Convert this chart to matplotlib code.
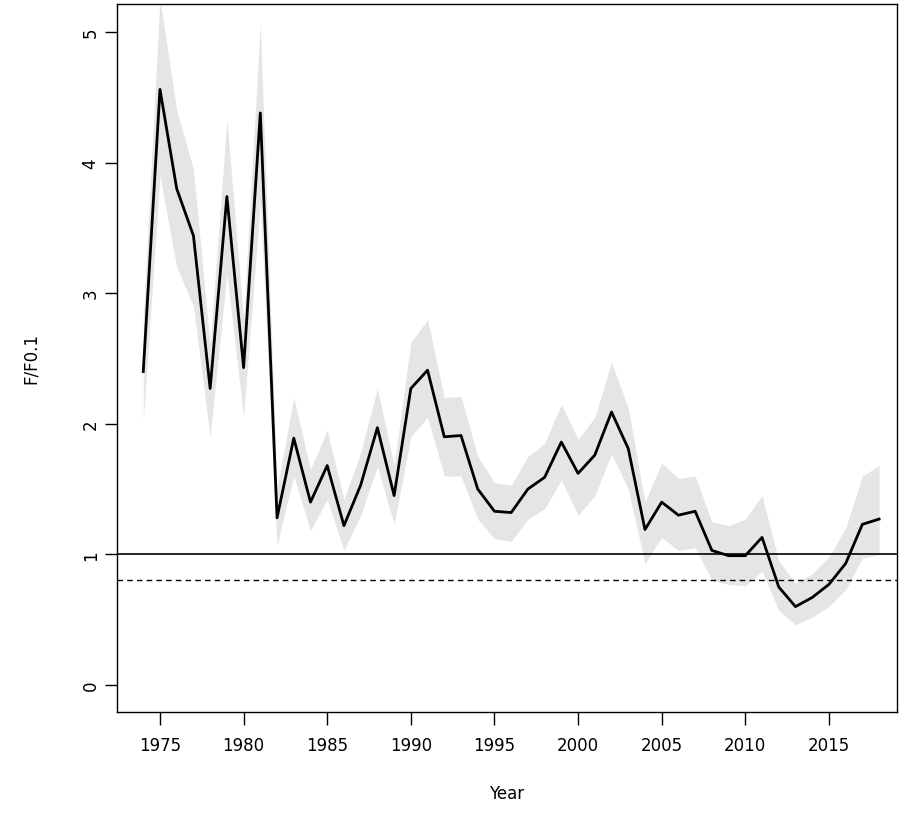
import numpy as np
import matplotlib.pyplot as plt

years = np.arange(1974, 2019)
ratio = [2.40, 4.56, 3.80, 3.44, 2.27, 3.74, 2.43, 4.38, 1.28, 1.89,
         1.40, 1.68, 1.22, 1.53, 1.97, 1.45, 2.27, 2.41, 1.90, 1.91,
         1.50, 1.33, 1.32, 1.50, 1.59, 1.86, 1.62, 1.76, 2.09, 1.81,
         1.19, 1.40, 1.30, 1.33, 1.03, 0.99, 0.99, 1.13, 0.75, 0.60,
         0.67, 0.77, 0.93, 1.23, 1.27]
upper = [2.80, 5.25, 4.40, 3.95, 2.60, 4.33, 2.80, 5.07, 1.50, 2.20,
         1.65, 1.95, 1.42, 1.78, 2.27, 1.68, 2.62, 2.80, 2.20, 2.21,
         1.75, 1.55, 1.53, 1.75, 1.85, 2.15, 1.88, 2.05, 2.47, 2.12,
         1.40, 1.70, 1.58, 1.60, 1.25, 1.22, 1.27, 1.45, 0.95, 0.78,
         0.85, 0.98, 1.20, 1.60, 1.68]
lower = [2.02, 3.90, 3.20, 2.90, 1.90, 3.15, 2.05, 3.70, 1.07, 1.60,
         1.18, 1.42, 1.03, 1.30, 1.67, 1.23, 1.90, 2.05, 1.60, 1.60,
         1.27, 1.12, 1.10, 1.27, 1.35, 1.57, 1.30, 1.45, 1.77, 1.50,
         0.93, 1.13, 1.03, 1.05, 0.80, 0.77, 0.76, 0.87, 0.57, 0.46,
         0.52, 0.60, 0.73, 0.97, 1.00]

fig = plt.figure(figsize=(8.99, 8.28), dpi=100)
ax = fig.add_axes([117/899, 115/828, 780/899, 708/828])
ax.fill_between(years, lower, upper, color='#e5e5e5', linewidth=0)
ax.plot(years, ratio, color='black', lw=2)
ax.axhline(1.0, color='black', lw=1.2)
ax.axhline(0.8, color='black', lw=1, ls=(0, (4, 3)))
ax.set_xlim(1972.43, 2019.07)
ax.set_ylim(-0.207, 5.214)
ax.set_xticks(range(1975, 2016, 5))
ax.set_yticks(range(0, 6))
ax.tick_params(axis='both', labelsize=12, length=9, direction='out', width=1)
ax.tick_params(axis='x', pad=8)
plt.setp(ax.get_yticklabels(), rotation=90, va='center')
ax.set_xlabel('Year', fontsize=12, labelpad=22)
ax.set_ylabel('F/F0.1', fontsize=12, labelpad=30)
for s in ax.spines.values():
    s.set_linewidth(1)
fig.savefig('out.png')
